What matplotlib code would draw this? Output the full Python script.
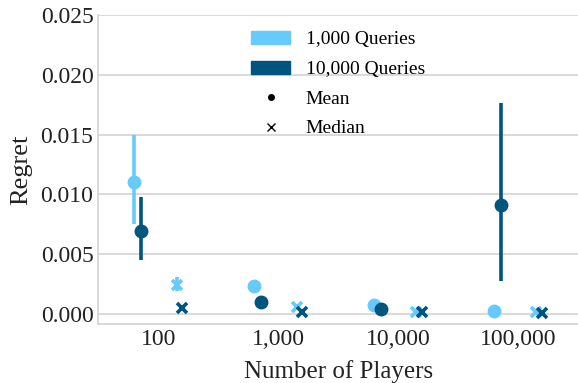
import numpy as np
import matplotlib
matplotlib.use('Agg')
import matplotlib.pyplot as plt
from matplotlib.patches import Patch
from matplotlib.lines import Line2D

plt.rcParams['font.family'] = ['Liberation Serif', 'DejaVu Serif']

players = ['100', '1,000', '10,000', '100,000']

mean_1k = [0.01105, 0.00229, 0.0007, 0.0002]
mean_1k_lo = [0.0075, 0.0018, 0.0006, 0.0002]
mean_1k_hi = [0.0150, 0.0028, 0.0008, 0.0002]

mean_10k = [0.00694, 0.00095, 0.00036, 0.0091]
mean_10k_lo = [0.00453, 0.00085, 0.0003, 0.00271]
mean_10k_hi = [0.00979, 0.00105, 0.0004, 0.01768]

median_1k = [0.00243, 0.00055, 0.0001, 0.0001]
median_1k_lo = [0.0019, 0.0004, 0.0001, 0.0001]
median_1k_hi = [0.00305, 0.0007, 0.0001, 0.0001]

median_10k = [0.0005, 0.00017, 0.0001, 0.00008]

light = '#66cbfc'
dark = '#00557f'

x = np.arange(len(players))

fig, ax = plt.subplots(figsize=(5.78, 3.83), dpi=100)
fig.subplots_adjust(left=0.17, right=1.0, top=0.96, bottom=0.154)

def yerr(v, lo, hi):
    v = np.array(v)
    return [v - np.array(lo), np.array(hi) - v]

ax.errorbar(x - 0.2, mean_1k, yerr=yerr(mean_1k, mean_1k_lo, mean_1k_hi),
            fmt='o', color=light, ms=9, elinewidth=2.6, capsize=0, zorder=3)
ax.errorbar(x - 0.145, mean_10k, yerr=yerr(mean_10k, mean_10k_lo, mean_10k_hi),
            fmt='o', color=dark, ms=9, elinewidth=2.6, capsize=0, zorder=4)
ax.errorbar(x + 0.153, median_1k, yerr=yerr(median_1k, median_1k_lo, median_1k_hi),
            fmt='x', color=light, ms=7.5, mew=2.6, elinewidth=2.6, capsize=0, zorder=3)
ax.plot(x + 0.2, median_10k, 'x', color=dark, ms=7.5, mew=2.6, zorder=4)

ax.set_xlim(-0.5, 3.5)
ax.set_ylim(-0.00087, 0.025)
ax.set_xticks(x)
ax.set_xticklabels(players)
ax.set_yticks(np.arange(0, 0.0251, 0.005))
ax.set_yticklabels(['%.3f' % v for v in np.arange(0, 0.0251, 0.005)])
ax.tick_params(labelsize=17, length=0, colors='#222222')
ax.set_xlabel('Number of Players', fontsize=18, color='#222222', labelpad=7)
ax.set_ylabel('Regret', fontsize=19, color='#222222', labelpad=6)

ax.yaxis.grid(True, color='#d3d3d3', lw=1.2)
ax.set_axisbelow(True)
for s in ['top', 'right']:
    ax.spines[s].set_visible(False)
for s in ['left', 'bottom']:
    ax.spines[s].set_color('#d3d3d3')
    ax.spines[s].set_linewidth(1.2)

handles = [Patch(color=light, label='1,000 Queries'),
           Patch(color=dark, label='10,000 Queries'),
           Line2D([], [], marker='o', color='black', ls='none', ms=4, label='Mean'),
           Line2D([], [], marker='x', color='black', ls='none', ms=6, label='Median')]
ax.legend(handles=handles, loc='upper center', frameon=False, fontsize=14,
          labelspacing=0.62, handletextpad=0.8, borderaxespad=0.4)

fig.savefig('out.png', dpi=100)
